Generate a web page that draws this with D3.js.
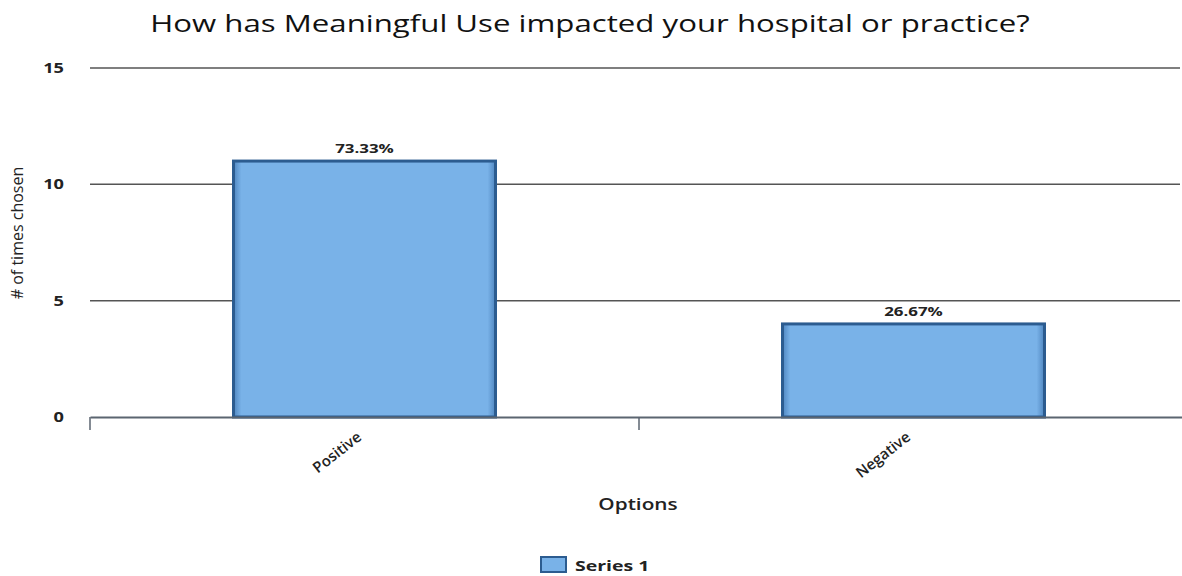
<!DOCTYPE html>
<html>
<head>
<meta charset="utf-8">
<script src="https://cdn.jsdelivr.net/npm/d3@7"></script>
<style>
  html, body { margin: 0; padding: 0; background: #fff; }
  svg { display: block; font-family: "Open Sans", "DejaVu Sans", sans-serif; }
</style>
</head>
<body>
<svg id="chart" width="1182" height="576"></svg>
<script>
// Survey responses
const categories = ["Positive", "Negative"];
const counts = [11, 4];
const percentLabels = ["73.33%", "26.67%"];
const yTicks = [0, 5, 10, 15];
const seriesName = "Series 1";
const chartTitle = "How has Meaningful Use impacted your hospital or practice?";
const xTitle = "Options";
const yTitle = "# of times chosen";

(function () {
const svg = d3.select("#chart");
const plotLeft = 90, plotRight = 1188, plotTop = 68, plotBottom = 417;
const wide = 1.3; // horizontal text stretch

const x = d3.scaleBand().domain(categories).range([plotLeft, plotRight]).paddingInner(0).paddingOuter(0);
const y = d3.scaleLinear().domain([0, 15]).range([plotBottom, plotTop]);

// Text placed at (px, py) and widened horizontally
function wideText(parent, px, py, str, rot) {
  const g = parent.append("g")
    .attr("transform", `translate(${px},${py})` + (rot ? ` rotate(${rot})` : "") + ` scale(${wide},1)`);
  return g.append("text").text(str);
}

// Gradient for the bar edges
const defs = svg.append("defs");
const grad = defs.append("linearGradient").attr("id", "barFill").attr("x1", 0).attr("x2", 1).attr("y1", 0).attr("y2", 0);
grad.append("stop").attr("offset", "0%").attr("stop-color", "#4f86c0");
grad.append("stop").attr("offset", "3%").attr("stop-color", "#79b2e8");
grad.append("stop").attr("offset", "97%").attr("stop-color", "#79b2e8");
grad.append("stop").attr("offset", "100%").attr("stop-color", "#4f86c0");

// Title
wideText(svg, 590, 32, chartTitle)
  .attr("text-anchor", "middle")
  .attr("font-size", 24)
  .attr("font-weight", 500)
  .attr("fill", "#111");

// Horizontal gridlines
svg.append("g")
  .selectAll("line")
  .data(yTicks.filter(d => d > 0))
  .join("line")
  .attr("x1", plotLeft).attr("x2", 1180)
  .attr("y1", d => y(d)).attr("y2", d => y(d))
  .attr("stroke", "#555").attr("stroke-width", 1.5);

// Y axis labels
const gy = svg.append("g");
yTicks.forEach(t => {
  wideText(gy, 64, y(t) + 5, String(t))
    .attr("text-anchor", "end")
    .attr("font-size", 14).attr("font-weight", 700).attr("fill", "#222");
});

// Y axis title
svg.append("text")
  .attr("transform", `translate(23,233) rotate(-90)`)
  .attr("text-anchor", "middle")
  .attr("font-size", 16)
  .attr("fill", "#222")
  .text(yTitle);

// Bars
const barW = 262;
svg.append("g")
  .selectAll("rect")
  .data(categories)
  .join("rect")
  .attr("x", (d) => x(d) + x.bandwidth() / 2 - barW / 2)
  .attr("y", (d, i) => y(counts[i]))
  .attr("width", barW)
  .attr("height", (d, i) => y(0) - y(counts[i]))
  .attr("fill", "url(#barFill)")
  .attr("stroke", "#2c5c90")
  .attr("stroke-width", 3);

// Percent labels above bars
const gl = svg.append("g");
categories.forEach((c, i) => {
  wideText(gl, x(c) + x.bandwidth() / 2, y(counts[i]) - 8, percentLabels[i])
    .attr("text-anchor", "middle")
    .attr("font-size", 13).attr("font-weight", 700).attr("fill", "#222");
});

// X axis baseline and ticks
const xAxis = d3.axisBottom(x).tickSize(0).tickFormat("");
const gx = svg.append("g").attr("transform", `translate(0,${plotBottom})`).call(xAxis);
gx.select(".domain").attr("stroke", "#5b6570").attr("stroke-width", 2);
gx.selectAll(".bound")
  .data(categories.map(c => x(c)))
  .join("line")
  .attr("class", "bound")
  .attr("x1", d => d).attr("x2", d => d)
  .attr("y1", 0).attr("y2", 13)
  .attr("stroke", "#5b6570").attr("stroke-width", 1.5);

// Rotated category labels
const gc = svg.append("g");
categories.forEach(c => {
  gc.append("text")
    .attr("transform", `translate(${x(c) + x.bandwidth() / 2 - 2},${plotBottom + 22}) rotate(-38)`)
    .attr("text-anchor", "end")
    .attr("font-size", 15).attr("font-weight", 600).attr("fill", "#222")
    .text(c);
});

// X axis title
wideText(svg, 638, 510, xTitle)
  .attr("text-anchor", "middle")
  .attr("font-size", 16).attr("font-weight", 600).attr("fill", "#222");

// Legend
const lg = svg.append("g").attr("transform", "translate(540,556)");
lg.append("rect").attr("x", 1).attr("y", 1).attr("width", 25).attr("height", 15)
  .attr("fill", "url(#barFill)").attr("stroke", "#2c5c90").attr("stroke-width", 2);
wideText(lg, 35, 15, seriesName)
  .attr("font-size", 15).attr("font-weight", 700).attr("fill", "#222");
})();
</script>
</body>
</html>
